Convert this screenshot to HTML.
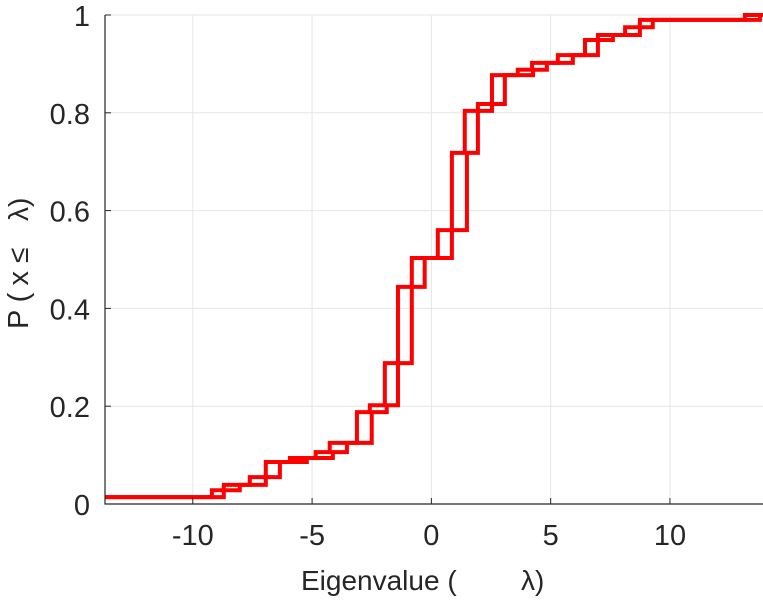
<!DOCTYPE html>
<html><head><meta charset="utf-8"><style>
body{margin:0;background:#fff;}
svg text{font-family:"Liberation Sans","DejaVu Sans",sans-serif;fill:#262626;}
</style></head><body>
<svg id="chart" width="763" height="600" xmlns="http://www.w3.org/2000/svg">
<g id="grid"></g>
<g id="series" clip-path="url(#clip)"></g>
<g id="axes"></g>
<defs><clipPath id="clip"><rect x="105" y="13" width="658" height="493"/></clipPath></defs>
<g>
<text x="301" y="590" font-size="28">Eigenvalue (</text>
<text x="521" y="590" font-size="28">λ)</text>
</g>
<g>
<text transform="translate(28,329) rotate(-90)" font-size="29" textLength="58" lengthAdjust="spacing">P(x</text>
<text transform="translate(28,263) rotate(-90)" font-size="28">≤</text>
<text transform="translate(28,221) rotate(-90)" font-size="28">λ)</text>
</g>
</svg>
<script>
const startLevel = 0.014;
const levels = [0.028,0.039,0.055,0.086,0.094,0.106,0.125,0.188,0.202,0.288,0.444,0.503,0.560,0.718,0.804,0.818,0.877,0.888,0.902,0.918,0.949,0.959,0.975,0.990,1.0];
const seriesAx = [-9.20,-8.70,-7.61,-6.94,-5.93,-4.85,-4.26,-3.12,-2.58,-1.95,-1.40,-0.82,0.27,0.86,1.40,1.95,2.54,3.62,4.22,5.30,6.44,6.98,8.12,8.74,13.14];
const seriesBx = [-8.70,-8.03,-6.94,-6.35,-5.22,-4.13,-3.54,-2.50,-1.87,-1.40,-0.82,-0.28,0.86,1.49,1.95,2.54,3.08,4.26,4.84,5.93,6.98,7.61,8.74,9.28,13.77];
const xTicks = [-10,-5,0,5,10];
const xTickLabels = ["-10","-5","0","5","10"];
const yTicks = [0,0.2,0.4,0.6,0.8,1];
const yTickLabels = ["0","0.2","0.4","0.6","0.8","1"];

const X0=105, X1=763, Y0=504, Y1=15, xmin=-13.68, xmax=13.9;
const sx = v => X0 + (v - xmin) / (xmax - xmin) * (X1 - X0);
const sy = v => Y0 - v * (Y0 - Y1);
const NS="http://www.w3.org/2000/svg";
function mk(tag, attrs, parent){const e=document.createElementNS(NS,tag);for(const k in attrs)e.setAttribute(k,attrs[k]);parent.appendChild(e);return e;}
const grid=document.getElementById('grid'), axes=document.getElementById('axes'), series=document.getElementById('series');
xTicks.forEach((t,i)=>{
  const g=mk('line',{x1:sx(t),x2:sx(t),y1:Y1,y2:Y0,stroke:'#e6e6e6','stroke-width':1},grid);
  
  
  const tk=mk('line',{x1:sx(t),x2:sx(t),y1:Y0,y2:Y0-6,stroke:'#262626','stroke-width':1},axes);
  
  
  const tx=mk('text',{x:sx(t),y:545,'font-size':29,'text-anchor':'middle'},axes);
  tx.textContent=xTickLabels[i];
  
  
});
yTicks.forEach((t,i)=>{
  const g=mk('line',{x1:X0,x2:X1,y1:sy(t),y2:sy(t),stroke:'#e6e6e6','stroke-width':1},grid);
  
  
  const tk=mk('line',{x1:X0,x2:X0+6,y1:sy(t),y2:sy(t),stroke:'#262626','stroke-width':1},axes);
  
  
  const tx=mk('text',{x:90,y:sy(t)+11,'font-size':29,'text-anchor':'end'},axes);
  tx.textContent=yTickLabels[i];
  
  
});
const ax=mk('path',{d:`M${X0},${Y1}V${Y0}H${X1}`,fill:'none',stroke:'#262626','stroke-width':1.2},axes);


function stairs(xs){
  let d=`M${sx(xmin-1)},${sy(startLevel)}`;
  xs.forEach((x,i)=>{d+=`H${sx(x)}V${sy(levels[i])}`;});
  d+=`H${sx(xmax+1)}`;
  return d;
}
const pa=mk('path',{d:stairs(seriesAx),fill:'none',stroke:'#ff0000','stroke-width':4},series);


const pb=mk('path',{d:stairs(seriesBx),fill:'none',stroke:'#ff0000','stroke-width':4},series);


</script>
</body></html>
